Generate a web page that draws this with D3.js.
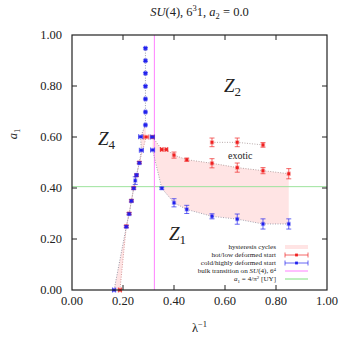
<!DOCTYPE html>
<html><head><meta charset="utf-8">
<script src="https://cdn.jsdelivr.net/npm/d3@7"></script>
<style>
html,body{margin:0;padding:0;background:#fff;}
svg{display:block;}
text{font-family:"Liberation Serif","DejaVu Serif",serif;fill:#222;}
</style></head>
<body>
<svg id="c" width="349" height="339"></svg>
<script>
// ---- data: [x, y, xErr, yErr] ----
const hotLeft = [[0.188,0.00,0.006,0],[0.213,0.25,0,0.004],[0.224,0.30,0,0.004],[0.233,0.35,0,0.004],[0.242,0.40,0,0.004],[0.253,0.45,0,0.004],[0.264,0.50,0,0.004],[0.291,0.60,0.01,0]];
const hotRight = [[0.316,0.60,0,0.004],[0.352,0.551,0.005,0],[0.370,0.551,0.005,0],[0.400,0.529,0,0.012],[0.450,0.511,0,0.006],[0.549,0.497,0,0.018],[0.648,0.480,0,0.018],[0.749,0.468,0,0.012],[0.850,0.456,0,0.02]];
const exotic = [[0.549,0.579,0,0.017],[0.648,0.579,0,0.017],[0.749,0.569,0,0.009]];
const coldLeft = [[0.165,0.00,0.006,0],[0.213,0.248,0,0.004],[0.224,0.298,0,0.004],[0.233,0.349,0,0.004],[0.242,0.399,0,0.004],[0.248,0.429,0,0.015],[0.253,0.451,0,0.004],[0.264,0.498,0,0.004],[0.272,0.548,0.008,0],[0.269,0.601,0.008,0],[0.288,0.647,0.003,0.003],[0.288,0.698,0.003,0.003],[0.288,0.749,0.003,0.003],[0.288,0.799,0.003,0.003],[0.288,0.850,0.003,0.003],[0.288,0.899,0.003,0.003],[0.288,0.948,0.003,0.003]];
const coldRight = [[0.315,0.600,0.008,0],[0.316,0.549,0.008,0],[0.352,0.399,0,0.004],[0.400,0.342,0,0.016],[0.450,0.316,0,0.016],[0.549,0.289,0,0.01],[0.648,0.278,0,0.02],[0.749,0.259,0,0.02],[0.850,0.259,0,0.02]];
const xTicks = [0,0.2,0.4,0.6,0.8,1.0];
const yTicks = [0,0.2,0.4,0.6,0.8,1.0];
const bulkX = 0.323;
const uyA1 = 4/(Math.PI*Math.PI);

const svg = d3.select("#c");
const L=72,R=327,T=35,B=290;
const x = d3.scaleLinear().domain([0,1]).range([L,R]);
const y = d3.scaleLinear().domain([0,1]).range([B,T]);
const red="#f02020", blue="#2020ee";

// shaded hysteresis regions
const area = d3.line().x(d=>x(d[0])).y(d=>y(d[1]));
const fill = "rgba(255,150,150,0.26)";
const rightPoly = hotRight.concat(coldRight.slice(2).reverse()).concat([[0.316,0.55]]);
svg.append("path").attr("d", area(rightPoly)+"Z").attr("fill",fill);
const leftPoly = coldLeft.slice(0,11).concat(hotLeft.slice().reverse());
svg.append("path").attr("d", area(leftPoly)+"Z").attr("fill",fill);

// reference lines
svg.append("line").attr("x1",x(0)).attr("x2",x(1)).attr("y1",y(uyA1)).attr("y2",y(uyA1)).attr("stroke","#9ee49e").attr("stroke-width",1);
svg.append("line").attr("x1",x(bulkX)).attr("x2",x(bulkX)).attr("y1",y(0)).attr("y2",y(1)).attr("stroke","#ff80ff").attr("stroke-width",1);

// dotted connecting lines
function dotted(data, col){
  svg.append("path").attr("d", area(data)).attr("fill","none").attr("stroke",col).attr("stroke-width",0.9).attr("stroke-dasharray","1,1.5");
}
dotted(hotLeft,"#d09090"); dotted(hotRight,"#b09898"); dotted(exotic,"#b0a0a0");
dotted(coldLeft,"#9090a0"); dotted(coldRight.slice(1),"#9898a8");
dotted([coldRight[0],hotRight[0]],"#b09898");

// error bars + points
function series(data,col){
  const g = svg.append("g");
  data.forEach(d=>{
    const cx=x(d[0]), cy=y(d[1]);
    if(d[3]>0){
      const y0=y(d[1]-d[3]), y1=y(d[1]+d[3]);
      g.append("line").attr("x1",cx).attr("x2",cx).attr("y1",y0).attr("y2",y1).attr("stroke",col).attr("stroke-width",0.9).attr("opacity",0.75);
      [y0,y1].forEach(v=>g.append("line").attr("x1",cx-2.5).attr("x2",cx+2.5).attr("y1",v).attr("y2",v).attr("stroke",col).attr("stroke-width",0.9).attr("opacity",0.75));
    }
    if(d[2]>0){
      const x0=x(d[0]-d[2]), x1=x(d[0]+d[2]);
      g.append("line").attr("x1",x0).attr("x2",x1).attr("y1",cy).attr("y2",cy).attr("stroke",col).attr("stroke-width",0.9).attr("opacity",0.75);
      [x0,x1].forEach(v=>g.append("line").attr("x1",v).attr("x2",v).attr("y1",cy-2.5).attr("y2",cy+2.5).attr("stroke",col).attr("stroke-width",0.9).attr("opacity",0.75));
    }
    g.append("rect").attr("x",cx-2.2).attr("y",cy-2.2).attr("width",4.4).attr("height",4.4).attr("fill",col).attr("opacity",0.3);
    g.append("rect").attr("x",cx-1.4).attr("y",cy-1.4).attr("width",2.8).attr("height",2.8).attr("fill",col);
  });
}
series(hotLeft,red); series(hotRight,red); series(exotic,red);
series(coldLeft,blue); series(coldRight,blue);

// frame & axes
svg.append("rect").attr("x",L).attr("y",T).attr("width",R-L).attr("height",B-T).attr("fill","none").attr("stroke","#222").attr("stroke-width",1.2);
const tk = svg.append("g").attr("stroke","#222").attr("stroke-width",1);
xTicks.slice(1,-1).forEach(v=>{
  tk.append("line").attr("x1",x(v)).attr("x2",x(v)).attr("y1",B).attr("y2",B-5);
  tk.append("line").attr("x1",x(v)).attr("x2",x(v)).attr("y1",T).attr("y2",T+5);
});
yTicks.slice(1,-1).forEach(v=>{
  tk.append("line").attr("x1",L).attr("x2",L+5).attr("y1",y(v)).attr("y2",y(v));
  tk.append("line").attr("x1",R).attr("x2",R-5).attr("y1",y(v)).attr("y2",y(v));
});
const fmt = d3.format(".2f");
xTicks.forEach(v=>svg.append("text").attr("x",x(v)).attr("y",B+15).attr("text-anchor","middle").attr("font-size",12.5).text(fmt(v)));
yTicks.forEach(v=>svg.append("text").attr("x",L-10).attr("y",y(v)+4).attr("text-anchor","end").attr("font-size",12.5).text(fmt(v)));

// title
const title = svg.append("text").attr("x",x(0.5)).attr("y",16).attr("text-anchor","middle").attr("font-size",12.5);
title.append("tspan").attr("font-style","italic").text("SU");
title.append("tspan").text("(4),  6");
title.append("tspan").attr("dy",-5).attr("font-size",8.5).text("3");
title.append("tspan").attr("dy",5).text("1,  ");
title.append("tspan").attr("font-style","italic").text("a");
title.append("tspan").attr("dy",3).attr("font-size",8.5).text("2");
title.append("tspan").attr("dy",-3).text(" = 0.0");

// axis labels
const xl = svg.append("text").attr("x",x(0.5)).attr("y",332).attr("text-anchor","middle").attr("font-size",12.5);
xl.append("tspan").text("λ");
xl.append("tspan").attr("dy",-5).attr("font-size",8.5).text("−1");
const yl = svg.append("text").attr("transform","translate(17,134) rotate(-90)").attr("text-anchor","middle").attr("font-size",12.5);
yl.append("tspan").attr("font-style","italic").text("a");
yl.append("tspan").attr("dy",3).attr("font-size",8.5).text("1");

// region labels
function zlab(px,py,sub){
  const t = svg.append("text").attr("x",px).attr("y",py).attr("font-size",19).attr("font-style","italic");
  t.append("tspan").text("Z");
  t.append("tspan").attr("dy",4).attr("font-size",13).attr("font-style","normal").text(sub);
}
zlab(98,145,"4"); zlab(224,92,"2"); zlab(169,240,"1");
svg.append("text").attr("x",228).attr("y",159).attr("font-size",10).text("exotic");

// legend
const lx=276, ly=[247,255,263,271,279];
const lg = svg.append("g").attr("font-size",7.1);
lg.append("text").attr("x",lx).attr("y",ly[0]+2.3).attr("text-anchor","end").text("hysteresis cycles");
lg.append("rect").attr("x",285).attr("y",ly[0]-2).attr("width",23).attr("height",4).attr("fill",fill);
lg.append("text").attr("x",lx).attr("y",ly[1]+2.3).attr("text-anchor","end").text("hot/low deformed start");
lg.append("text").attr("x",lx).attr("y",ly[2]+2.3).attr("text-anchor","end").text("cold/highly deformed start");
[[ly[1],red],[ly[2],blue]].forEach(([yy,c])=>{
  lg.append("line").attr("x1",285).attr("x2",308).attr("y1",yy).attr("y2",yy).attr("stroke",c).attr("stroke-width",0.9).attr("opacity",0.75);
  [285,308].forEach(v=>lg.append("line").attr("x1",v).attr("x2",v).attr("y1",yy-2.5).attr("y2",yy+2.5).attr("stroke",c).attr("stroke-width",0.9).attr("opacity",0.75));
  lg.append("rect").attr("x",295.1).attr("y",yy-1.4).attr("width",2.8).attr("height",2.8).attr("fill",c);
});
const t4 = lg.append("text").attr("x",lx).attr("y",ly[3]+2.3).attr("text-anchor","end");
t4.append("tspan").text("bulk transition on ");
t4.append("tspan").attr("font-style","italic").text("SU");
t4.append("tspan").text("(4), 6");
t4.append("tspan").attr("dy",-2.5).attr("font-size",5).text("4");
lg.append("line").attr("x1",285).attr("x2",308).attr("y1",ly[3]).attr("y2",ly[3]).attr("stroke","#ff80ff");
const t5 = lg.append("text").attr("x",lx).attr("y",ly[4]+2.3).attr("text-anchor","end");
t5.append("tspan").attr("font-style","italic").text("a");
t5.append("tspan").attr("dy",1.5).attr("font-size",5).text("1");
t5.append("tspan").attr("dy",-1.5).text(" = 4/π");
t5.append("tspan").attr("dy",-2.5).attr("font-size",5).text("2");
t5.append("tspan").attr("dy",2.5).text(" [UY]");
lg.append("line").attr("x1",285).attr("x2",308).attr("y1",ly[4]).attr("y2",ly[4]).attr("stroke","#7fe07f");
</script>
</body></html>
